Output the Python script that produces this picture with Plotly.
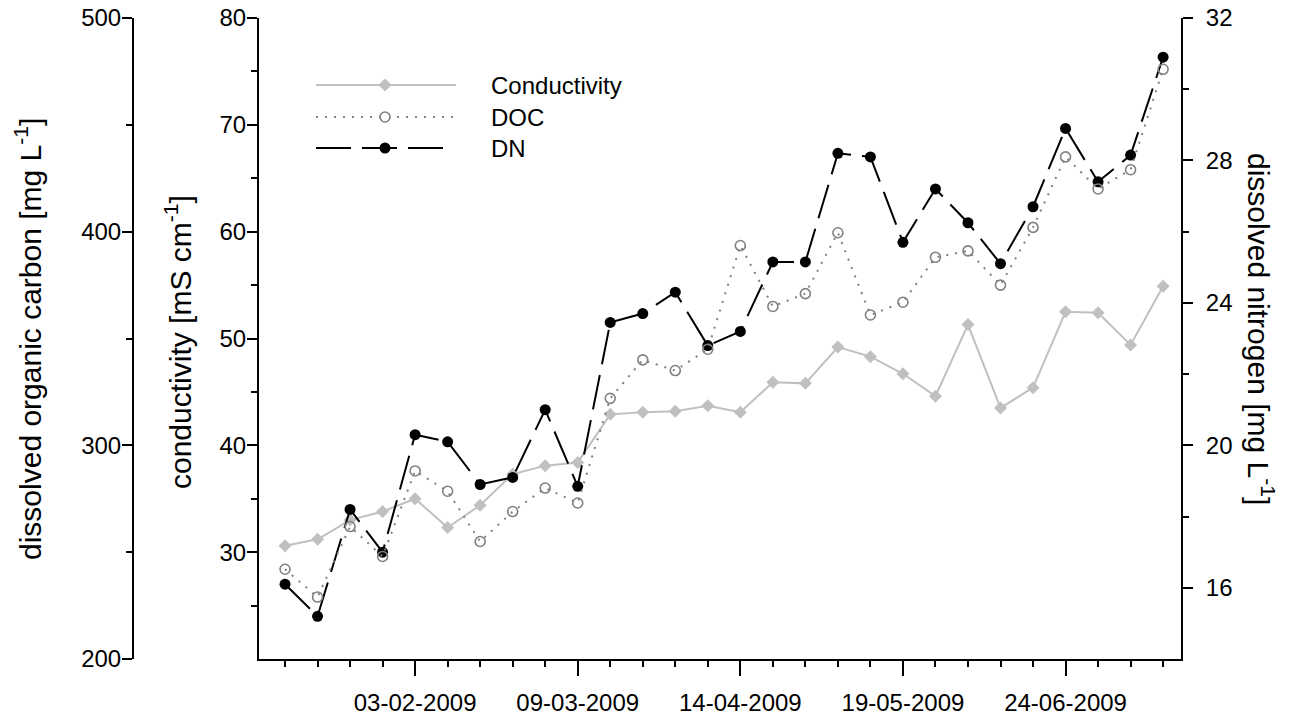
import plotly.graph_objects as go

# ---- data -------------------------------------------------------------
sample_idx = list(range(28))
tick_pos = [4, 9, 14, 19, 24]
tick_labels = ["03-02-2009", "09-03-2009", "14-04-2009", "19-05-2009", "24-06-2009"]

conductivity = [30.6, 31.2, 33.0, 33.8, 35.0, 32.3, 34.4, 37.3, 38.1, 38.4,
                42.9, 43.1, 43.2, 43.7, 43.1, 45.9, 45.8, 49.2, 48.3, 46.7,
                44.6, 51.3, 43.5, 45.4, 52.5, 52.4, 49.4, 54.9]
doc = [242, 229, 262, 248, 288, 278.5, 255, 269, 280, 273,
       322, 340, 335, 345, 393.5, 365, 371, 399.5, 361, 367,
       388, 391, 375, 402, 435, 420, 429, 476]
dn = [16.1, 15.2, 18.2, 17.0, 20.3, 20.1, 18.9, 19.1, 21.0, 18.85,
      23.45, 23.7, 24.3, 22.8, 23.2, 25.15, 25.15, 28.2, 28.1, 25.7,
      27.2, 26.25, 25.1, 26.7, 28.9, 27.4, 28.15, 30.9]

series_names = ["Conductivity", "DOC", "DN"]

# ---- page geometry (pixels) -------------------------------------------
W, H = 1294, 719
ML, MR, MT, MB = 20, 20, 18, 60
PW, PH = W - ML - MR, H - MT - MB


def px(x):
    return (x - ML) / PW


def py(y):
    return (H - MB - y) / PH


FONT = "Liberation Sans, Arial, Helvetica, sans-serif"
TICK_SIZE = 24
TITLE_SIZE = 30

COND_COLOR = "#c0c0c0"
DOC_COLOR = "#808080"
DN_COLOR = "#000000"
DN_DASH = "35px,11px"
DOC_DASH = "2px,7px"

fig = go.Figure()

fig.add_trace(go.Scatter(
    x=sample_idx, y=conductivity, name=series_names[0], mode="lines+markers",
    line=dict(color=COND_COLOR, width=2),
    marker=dict(symbol="diamond", size=10, color=COND_COLOR),
    xaxis="x", yaxis="y", showlegend=False))

fig.add_trace(go.Scatter(
    x=sample_idx, y=doc, name=series_names[1], mode="lines+markers",
    line=dict(color=DOC_COLOR, width=2, dash=DOC_DASH),
    marker=dict(symbol="circle-open", size=10, color=DOC_COLOR,
                line=dict(width=1.6, color=DOC_COLOR)),
    xaxis="x", yaxis="y3", showlegend=False))

fig.add_trace(go.Scatter(
    x=sample_idx, y=dn, name=series_names[2], mode="lines+markers",
    line=dict(color=DN_COLOR, width=2, dash=DN_DASH),
    marker=dict(symbol="circle", size=11, color=DN_COLOR),
    xaxis="x", yaxis="y2", showlegend=False))

# ---- hand-drawn legend (paper-positioned shapes + text) ----------------
leg_x0, leg_xm, leg_text_x = 316, 385, 489
leg_x1 = [456, 454, 443]
leg_rows = [85, 117, 148]
leg_lines = [dict(color=COND_COLOR, width=2),
             dict(color=DOC_COLOR, width=2, dash=DOC_DASH),
             dict(color=DN_COLOR, width=2, dash=DN_DASH)]


def to_px_path(points):
    return "M" + "L".join(f"{px(a)},{py(b)}" for a, b in points) + "Z"


for name, row, ln, x1 in zip(series_names, leg_rows, leg_lines, leg_x1):
    fig.add_shape(type="line", xref="paper", yref="paper",
                  x0=px(leg_x0), x1=px(x1), y0=py(row), y1=py(row),
                  line=ln, layer="above")
    fig.add_annotation(
        x=px(leg_text_x), y=py(row), xref="paper", yref="paper",
        text=name, showarrow=False, xanchor="left", yanchor="middle",
        font=dict(family=FONT, size=TICK_SIZE, color="black"))

# legend symbols
r_d = 6.5
fig.add_shape(type="path", xref="paper", yref="paper", layer="above",
              path=to_px_path([(leg_xm - r_d, leg_rows[0]), (leg_xm, leg_rows[0] - r_d),
                               (leg_xm + r_d, leg_rows[0]), (leg_xm, leg_rows[0] + r_d)]),
              fillcolor=COND_COLOR, line=dict(width=0))
r_o = 5
fig.add_shape(type="circle", xref="paper", yref="paper", layer="above",
              x0=px(leg_xm - r_o), x1=px(leg_xm + r_o),
              y0=py(leg_rows[1] + r_o), y1=py(leg_rows[1] - r_o),
              fillcolor="white", line=dict(color=DOC_COLOR, width=1.6))
r_f = 5.5
fig.add_shape(type="circle", xref="paper", yref="paper", layer="above",
              x0=px(leg_xm - r_f), x1=px(leg_xm + r_f),
              y0=py(leg_rows[2] + r_f), y1=py(leg_rows[2] - r_f),
              fillcolor=DN_COLOR, line=dict(color=DN_COLOR, width=0))

axis_common = dict(
    showgrid=False, zeroline=False, showline=True, linecolor="black",
    linewidth=2, ticks="outside", tickwidth=2, tickcolor="black",
    tickfont=dict(family=FONT, size=TICK_SIZE, color="black"),
    automargin=False, fixedrange=True)

x_dom = [px(259), px(1181)]

fig.update_layout(
    width=W, height=H,
    margin=dict(l=ML, r=MR, t=MT, b=MB, pad=0),
    paper_bgcolor="white", plot_bgcolor="white",
    template="none",
    showlegend=False,
    xaxis=dict(
        **axis_common, domain=x_dom, range=[-0.8, 27.55], anchor="y",
        tickmode="array", tickvals=tick_pos, ticktext=tick_labels, ticklen=15,
        ticklabelstandoff=6,
        minor=dict(tickmode="array", tickvals=sample_idx, ticks="outside",
                   ticklen=6, tickwidth=2, tickcolor="black")),
    yaxis=dict(
        **axis_common, range=[20, 80], anchor="x", side="left",
        tickmode="array", tickvals=[30, 40, 50, 60, 70, 80], ticklen=10,
        ticklabelstandoff=-4,
        minor=dict(tickmode="array", tickvals=[25, 35, 45, 55, 65, 75],
                   ticks="outside", ticklen=6, tickwidth=2, tickcolor="black")),
    yaxis2=dict(
        **axis_common, range=[14, 32], anchor="x", side="right",
        overlaying="y",
        tickmode="array", tickvals=[16, 20, 24, 28, 32], ticklen=10,
        ticklabelstandoff=8,
        minor=dict(tickmode="array", tickvals=[18, 22, 26, 30],
                   ticks="outside", ticklen=6, tickwidth=2, tickcolor="black")),
    yaxis3=dict(
        **axis_common, range=[200, 500], anchor="free", position=px(133),
        side="left", overlaying="y",
        tickmode="array", tickvals=[200, 300, 400, 500], ticklen=10,
        ticklabelstandoff=-4,
        minor=dict(tickmode="array", tickvals=[250, 350, 450],
                   ticks="outside", ticklen=6, tickwidth=2, tickcolor="black")),
)

# axis titles
fig.add_annotation(
    x=px(28), y=py(339), xref="paper", yref="paper", textangle=-90,
    text="dissolved organic carbon [mg L<sup>-1</sup>]", showarrow=False,
    xanchor="center", yanchor="middle",
    font=dict(family=FONT, size=TITLE_SIZE, color="black"))
fig.add_annotation(
    x=px(178), y=py(342), xref="paper", yref="paper", textangle=-90,
    text="conductivity [mS cm<sup>-1</sup>]", showarrow=False,
    xanchor="center", yanchor="middle",
    font=dict(family=FONT, size=TITLE_SIZE, color="black"))
fig.add_annotation(
    x=px(1261), y=py(329), xref="paper", yref="paper", textangle=90,
    text="dissolved nitrogen [mg L<sup>-1</sup>]", showarrow=False,
    xanchor="center", yanchor="middle",
    font=dict(family=FONT, size=TITLE_SIZE, color="black"))

fig.write_html("out.html")
